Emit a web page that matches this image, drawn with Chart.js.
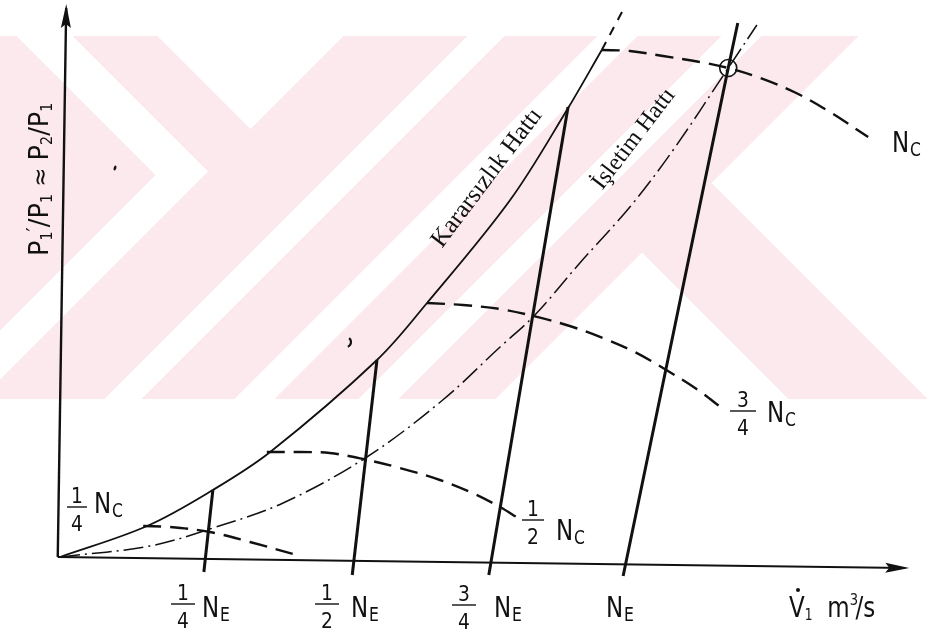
<!DOCTYPE html>
<html>
<head>
<meta charset="utf-8">
<script src="https://cdn.jsdelivr.net/npm/chart.js@4/dist/chart.umd.min.js"></script>
<style>
  html, body { margin: 0; padding: 0; background: #ffffff; }
  #wrap { width: 927px; height: 640px; position: relative; }
  canvas { display: block; }
</style>
</head>
<body>
<div id="wrap"><canvas id="c" width="927" height="640"></canvas></div>
<script>
// Compressor map: flow (x, fraction of N_E intercept) vs. pressure ratio (y, normalised)

// Surge line (Kararsızlık Hattı)
const surgeX = [0, 0.155, 0.272, 0.374, 0.564, 0.653, 0.801, 0.902, 0.964];
const surgeY = [0, 0.062, 0.134, 0.210, 0.394, 0.508, 0.714, 0.894, 1.014];
// its dashed continuation above the N_C curve
const surgeExtX = [0.964, 1.000];
const surgeExtY = [1.014, 1.090];

// Operating line (İşletim Hattı)
const opX = [0, 0.160, 0.272, 0.397, 0.546, 0.681, 0.783, 0.845, 0.925, 1.014, 1.091, 1.189, 1.240];
const opY = [0, 0.022, 0.058, 0.108, 0.200, 0.314, 0.420, 0.484, 0.588, 0.700, 0.814, 0.978, 1.064];

// Constant compressor-speed curves
const nc14X = [0.148, 0.196, 0.267, 0.338, 0.427];
const nc14Y = [0.062, 0.060, 0.050, 0.030, 0.002];
const nc12X = [0.368, 0.427, 0.480, 0.539, 0.605, 0.676, 0.730, 0.783, 0.815];
const nc12Y = [0.210, 0.210, 0.208, 0.196, 0.178, 0.154, 0.130, 0.100, 0.078];
const nc34X = [0.653, 0.717, 0.783, 0.842, 0.907, 0.966, 1.023, 1.073, 1.130, 1.180];
const nc34Y = [0.508, 0.504, 0.496, 0.482, 0.462, 0.438, 0.410, 0.378, 0.338, 0.296];
const nc1X  = [0.964, 1.014, 1.073, 1.139, 1.189, 1.246, 1.310, 1.370, 1.438];
const nc1Y  = [1.014, 1.012, 1.002, 0.990, 0.978, 0.958, 0.928, 0.890, 0.840];

// Constant expander-speed lines (bottom end, top end)
const ne14X = [0.256, 0.272];  const ne14Y = [-0.030, 0.134];
const ne12X = [0.520, 0.564];  const ne12Y = [-0.036, 0.394];
const ne34X = [0.763, 0.904];  const ne34Y = [-0.036, 0.900];
const ne1X  = [1.002, 1.189, 1.206]; const ne1Y = [-0.038, 0.978, 1.068];

// Design point
const designX = [1.189];
const designY = [0.978];

// Axes (start, end)
const axisXx = [-0.004, 1.504]; const axisXy = [0, -0.022];
const axisYx = [-0.004, 0.011]; const axisYy = [0, 1.098];

const pts = (xs, ys) => xs.map((x, i) => ({ x, y: ys[i] }));
const INK = '#111111';

function line(data, width, dash, tension) {
  return {
    data, showLine: true, borderColor: INK, backgroundColor: INK,
    borderWidth: width, borderDash: dash || [], pointRadius: 0,
    tension: tension || 0, borderCapStyle: 'butt', borderJoinStyle: 'round'
  };
}

const datasets = [
  line(pts(axisXx, axisXy), 2),
  line(pts(axisYx, axisYy), 2.4),
  line(pts(surgeX, surgeY), 1.8, [], 0.35),
  line(pts(surgeExtX, surgeExtY), 2, [9, 8]),
  line(pts(opX, opY), 1.5, [20, 5, 2, 5], 0.35),
  line(pts(nc14X, nc14Y), 2.4, [18, 9], 0.35),
  line(pts(nc12X, nc12Y), 2.4, [18, 9], 0.35),
  line(pts(nc34X, nc34Y), 2.4, [18, 9], 0.35),
  line(pts(nc1X, nc1Y), 2.4, [18, 9], 0.35),
  line(pts(ne14X, ne14Y), 3),
  line(pts(ne12X, ne12Y), 3),
  line(pts(ne34X, ne34Y), 3),
  line(pts(ne1X, ne1Y), 3),
  {
    data: pts(designX, designY), showLine: false, pointRadius: 8.5,
    pointBackgroundColor: '#ffffff', pointBorderColor: INK, pointBorderWidth: 1.6
  }
];

// Light striped emblem behind the plot.
// Bands are described by u = x + y ("/" direction) and v = x - y ("\" direction) in canvas pixels.
const emblem = {
  id: 'emblem',
  beforeDraw(chart) {
    const ctx = chart.ctx;
    const top = 36, bottom = 399, W = 927;
    const img = ctx.createImageData(W, bottom - top);
    const pink = [252, 233, 237];
    const inPink = (x, y) => {
      const u = x + y, v = x - y;
      if (u < 379) {
        // nested chevrons left of the main "/" band
        if (v > 121) return false;            // open wedge at the top
        if (v >= 37) return true;             // "\" band
        if (u >= 330) return false;           // white "/" return stroke
        if (v >= -19) return false;           // white "\" stroke
        return true;
      }
      if (u < 503) return true;               // main left "/" band
      if (u < 894) {
        // "/" stripes between the two main bands
        if (u < 540) return false;
        if (u < 633) return true;
        if (u < 673) return false;
        if (u < 757) return true;
        if (u < 797) return false;
        return true;                          // main right "/" band
      }
      // right of the main right band: one "\" band
      return v >= 390 && v <= 528;
    };
    for (let y = top; y < bottom; y++) {
      for (let x = 0; x < W; x++) {
        const i = ((y - top) * W + x) * 4;
        const c = inPink(x, y) ? pink : [255, 255, 255];
        img.data[i] = c[0]; img.data[i + 1] = c[1]; img.data[i + 2] = c[2];
        img.data[i + 3] = 255;
      }
    }
    ctx.putImageData(img, 0, top);
  }
};

// Axis arrow heads and all text
const annotate = {
  id: 'annotate',
  afterDatasetsDraw(chart) {
    const ctx = chart.ctx;
    const sx = chart.scales.x, sy = chart.scales.y;
    const px = v => sx.getPixelForValue(v);
    const py = v => sy.getPixelForValue(v);

    const arrow = (x0, y0, x1, y1, len, half) => {
      const ax = px(x1), ay = py(y1);
      const ang = Math.atan2(ay - py(y0), ax - px(x0));
      ctx.save();
      ctx.translate(ax, ay);
      ctx.rotate(ang);
      ctx.fillStyle = INK;
      ctx.beginPath();
      ctx.moveTo(4, 0);
      ctx.lineTo(-len, -half);
      ctx.lineTo(-len + 4, 0);
      ctx.lineTo(-len, half);
      ctx.closePath();
      ctx.fill();
      ctx.restore();
    };
    arrow(axisXx[0], axisXy[0], axisXx[1], axisXy[1], 20, 5);
    arrow(axisYx[0], axisYy[0], axisYx[1], axisYy[1], 20, 5);

    // pen marks left on the sheet
    ctx.save();
    ctx.fillStyle = INK;
    ctx.beginPath(); ctx.ellipse(115, 168, 1.3, 2.6, 0.3, 0, Math.PI * 2); ctx.fill();
    ctx.lineWidth = 2.2; ctx.strokeStyle = INK;
    ctx.beginPath(); ctx.arc(346, 342, 5, -0.9, 1.2); ctx.stroke();
    ctx.restore();

    const SANS = '"DejaVu Sans", sans-serif';
    const runs = (x, y, parts, squeeze) => {
      ctx.save();
      ctx.translate(x, y);
      ctx.scale(squeeze, 1);
      ctx.fillStyle = INK;
      ctx.textBaseline = 'alphabetic';
      let cx = 0;
      for (const [t, size, dy, gap] of parts) {
        ctx.font = size + 'px ' + SANS;
        ctx.fillText(t, cx, dy || 0);
        cx += ctx.measureText(t).width + (gap || 0);
      }
      ctx.restore();
    };
    const frac = (c, num, den) => {
      ctx.save();
      ctx.fillStyle = INK;
      ctx.strokeStyle = INK;
      ctx.textAlign = 'center';
      ctx.font = '22px ' + SANS;
      ctx.save(); ctx.translate(c.x, c.barY - 4); ctx.scale(0.85, 1); ctx.fillText(num, 0, 0); ctx.restore();
      ctx.save(); ctx.translate(c.x, c.barY + 24); ctx.scale(0.85, 1); ctx.fillText(den, 0, 0); ctx.restore();
      ctx.lineWidth = 1.4;
      ctx.beginPath();
      ctx.moveTo(c.x - c.w / 2, c.barY);
      ctx.lineTo(c.x + c.w / 2, c.barY);
      ctx.stroke();
      ctx.restore();
    };
    const N = (x, y, sub) => runs(x, y, [['N', 28, 0, 1], [sub, 19, 4]], 0.82);

    // compressor-speed labels
    N(892, 152, 'C');
    frac({ x: 743, barY: 411, w: 26 }, '3', '4'); N(767, 422, 'C');
    frac({ x: 533, barY: 520, w: 22 }, '1', '2'); N(556, 540, 'C');
    frac({ x: 77,  barY: 507, w: 20 }, '1', '4'); N(94, 513, 'C');

    // expander-speed labels under the axis
    frac({ x: 183, barY: 604, w: 24 }, '1', '4'); N(202, 617, 'E');
    frac({ x: 327, barY: 604, w: 24 }, '1', '2'); N(351, 617, 'E');
    frac({ x: 464, barY: 605, w: 24 }, '3', '4'); N(494, 617, 'E');
    N(606, 617, 'E');

    // x-axis title: V̇₁ m³/s
    runs(789, 617, [['V', 28, 0, 0], ['1', 15, 3, 18], ['m', 28, 0, 0], ['3', 16, -12, -3], ['/', 28, 0, 0], ['s', 28, 0]], 0.82);
    ctx.fillStyle = INK;
    ctx.beginPath(); ctx.arc(798, 590, 2, 0, Math.PI * 2); ctx.fill();

    // y-axis title, reading upwards
    ctx.save();
    ctx.translate(48, 256);
    ctx.rotate(-Math.PI / 2);
    ctx.fillStyle = INK;
    let cx = 0;
    const yparts = [['P', 27, 0], ['1', 15, 4], ['′', 20, -8], ['/', 27, 0], ['P', 27, 0], ['1', 15, 4],
                    [' ≈ ', 24, 0], ['P', 27, 0], ['2', 15, 4], ['/', 27, 0], ['P', 27, 0], ['1', 15, 4]];
    ctx.scale(0.95, 1);
    for (const [t, s, dy] of yparts) {
      ctx.font = s + 'px ' + SANS;
      ctx.fillText(t, cx, dy);
      cx += ctx.measureText(t).width;
    }
    ctx.restore();

    // line names along their curves
    const slanted = (text, x, y, deg, size) => {
      ctx.save();
      ctx.translate(x, y);
      ctx.rotate(deg * Math.PI / 180);
      ctx.font = size + 'px "Liberation Serif", serif';
      ctx.fillStyle = INK;
      ctx.textAlign = 'center';
      ctx.textBaseline = 'middle';
      ctx.fillText(text, 0, 0);
      ctx.restore();
    };
    slanted('Kararsızlık Hattı', 487, 178, -53, 25);
    slanted('İşletim Hattı', 634, 139, -52.5, 24);
  }
};

new Chart(document.getElementById('c'), {
  type: 'scatter',
  data: { datasets },
  options: {
    responsive: false,
    animation: false,
    devicePixelRatio: 1,
    layout: { padding: 0, autoPadding: false },
    plugins: { legend: { display: false }, tooltip: { enabled: false }, title: { display: false } },
    scales: {
      x: { type: 'linear', display: false, min: -60 / 562, max: 867 / 562 },
      y: { type: 'linear', display: false, min: -83 / 500, max: 557 / 500 }
    },
    elements: { line: { fill: false } }
  },
  plugins: [emblem, annotate]
});
</script>
</body>
</html>
